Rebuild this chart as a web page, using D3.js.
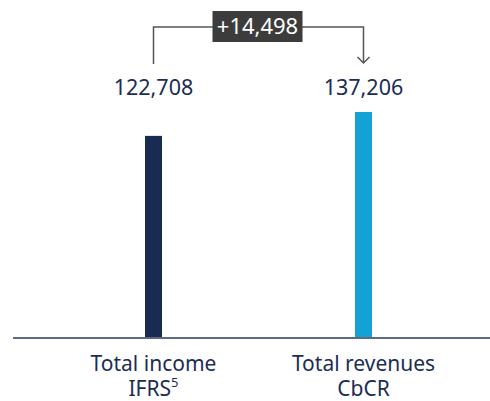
<!DOCTYPE html>
<html>
<head>
<meta charset="utf-8">
<script src="https://cdn.jsdelivr.net/npm/d3@7"></script>
<style>
  body { margin: 0; background: #fff; }
  svg text { font-family: "Noto Sans", sans-serif; }
</style>
</head>
<body>
<svg id="chart" width="490" height="401"></svg>
<script>
// chart values
var categories = ["Total income", "Total revenues"];
var subLabels = ["IFRS", "CbCR"];
var footnotes = ["5", ""];
var values = [122708, 137206];
var diffLabel = "+14,498";

var svg = d3.select("#chart");
var baseY = 338;

var x = d3.scalePoint().domain(categories).range([153.5, 363.5]);
var y = d3.scaleLinear().domain([0, 137206]).range([baseY, 112]);
var colors = ["#1a2b52", "#14a1d4"];
var fmt = d3.format(",");
var barW = 17;

// bars
svg.selectAll(".bar")
  .data(values)
  .enter().append("rect")
  .attr("class", "bar")
  .attr("x", (d, i) => x(categories[i]) - barW / 2)
  .attr("y", d => y(d))
  .attr("width", barW)
  .attr("height", d => baseY - y(d))
  .style("fill", (d, i) => colors[i]);

// baseline
svg.append("line")
  .attr("x1", 13).attr("x2", 490)
  .attr("y1", baseY).attr("y2", baseY)
  .style("stroke", "#5b6b87").style("stroke-width", 2);

// value labels
svg.selectAll(".val")
  .data(values)
  .enter().append("text")
  .attr("class", "val")
  .attr("x", (d, i) => x(categories[i]))
  .attr("y", 95)
  .attr("text-anchor", "middle")
  .style("font-size", "21.5px")
  .style("fill", "#1c2c54")
  .text(d => fmt(d));

// category labels
var cat = svg.selectAll(".cat")
  .data(categories)
  .enter().append("g").attr("class", "cat");
cat.append("text")
  .attr("x", d => x(d)).attr("y", 371)
  .attr("text-anchor", "middle")
  .style("font-size", "21px").style("fill", "#1c2c54")
  .text(d => d);
var sub = cat.append("text")
  .attr("x", d => x(d)).attr("y", 396)
  .attr("text-anchor", "middle")
  .style("font-size", "21px").style("fill", "#1c2c54");
sub.append("tspan").text((d, i) => subLabels[i]);
sub.append("tspan")
  .attr("dy", -9)
  .style("font-size", "13px")
  .text((d, i) => footnotes[i]);

// difference bracket
var x1 = x(categories[0]), x2 = x(categories[1]);
var topY = 27;
svg.append("path")
  .attr("d", `M${x1},64V${topY}H${x2}V63`)
  .style("fill", "none").style("stroke", "#555").style("stroke-width", 1.5);
svg.append("path")
  .attr("d", `M${x2 - 6},57L${x2},63L${x2 + 6},57`)
  .style("fill", "none").style("stroke", "#555").style("stroke-width", 1.5);

var mid = (x1 + x2) / 2 - 1;
svg.append("rect")
  .attr("x", mid - 45).attr("y", 11)
  .attr("width", 90).attr("height", 31)
  .style("fill", "#3c3c3c");
svg.append("text")
  .attr("x", mid).attr("y", 34)
  .attr("text-anchor", "middle")
  .style("font-size", "22px").style("fill", "#fff")
  .text(diffLabel);
</script>
</body>
</html>
